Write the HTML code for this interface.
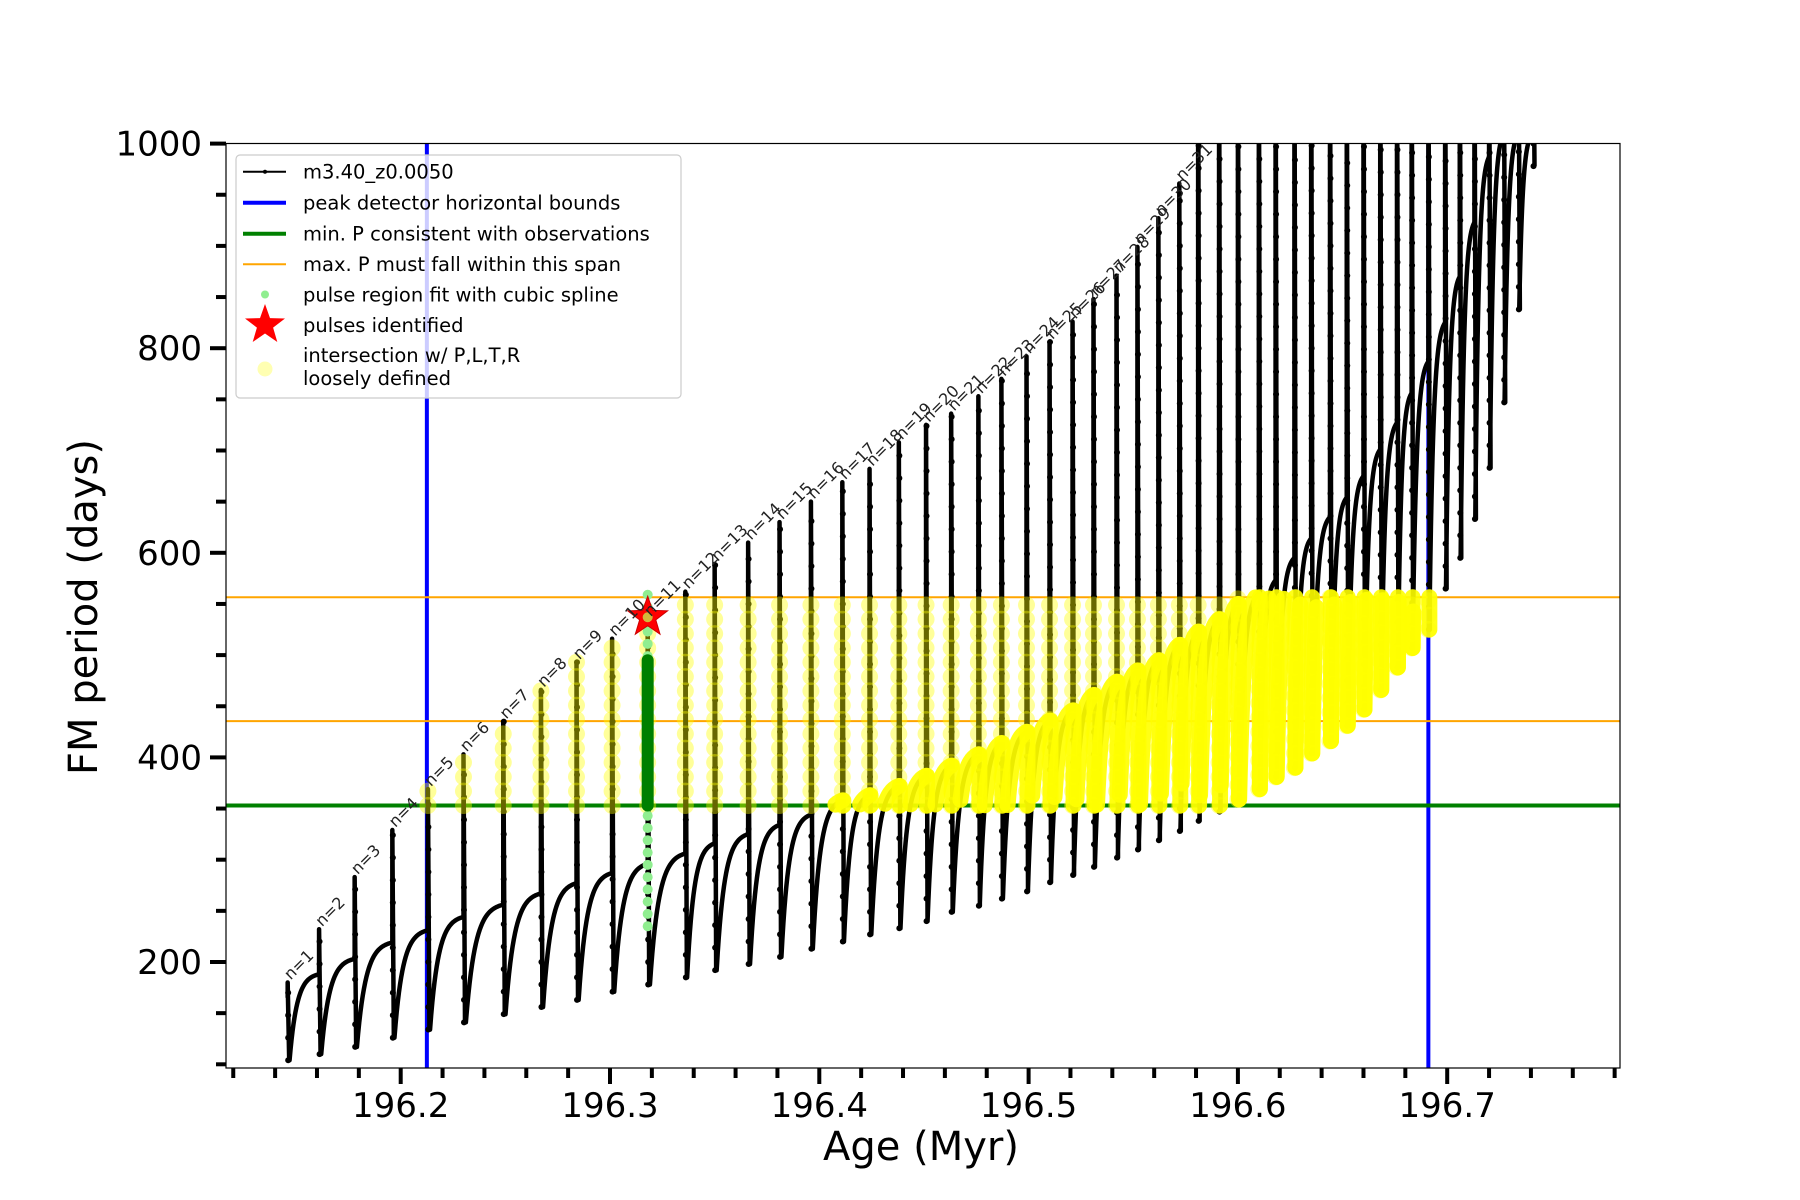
<!DOCTYPE html>
<html><head><meta charset="utf-8"><style>
html,body{margin:0;padding:0;background:#fff;}
svg{display:block;font-family:"DejaVu Sans","Liberation Sans",sans-serif;}
</style></head><body>
<svg id="chart" width="1800" height="1200" viewBox="0 0 1800 1200" xmlns="http://www.w3.org/2000/svg">
<defs>
<clipPath id="plotclip"><rect x="226" y="143.5" width="1394" height="924.5"/></clipPath>
</defs>
<rect x="0" y="0" width="1800" height="1200" fill="#fff"/>
<g id="plot" clip-path="url(#plotclip)"></g>
<g id="axes"></g>
<g id="labels"></g>
<g id="legend"></g>
</svg>
<script>
// ---- data ----
const pulseAge = [196.146,196.161,196.178,196.196,196.213,196.230,196.249,196.267,196.284,196.301,196.318,196.336,196.350,196.366,196.381,196.396,196.411,196.424,196.438,196.451,196.463,196.476,196.487,196.499,196.510,196.521,196.531,196.542,196.552,196.562,196.572,196.581,196.591,196.600,196.610,196.618,196.627,196.635,196.644,196.652,196.660,196.668,196.676,196.683,196.691,196.699,196.706,196.713,196.720,196.727,196.734,196.741];
const pulsePeak = [180,232,283,329,369,403,435,466,493,516,535,562,589,610,630,650,669,682,708,725,736,753,770,792,806,826,848,871,899,927,961,1150,1150,1150,1150,1150,1150,1150,1150,1150,1150,1150,1150,1150,1150,1150,1150,1150,1150,1150,1150,1150];
const pulseMin = [104,110,117,126,134,141,149,156,163,171,178,185,192,198,205,213,220,227,233,240,249,255,262,269,278,285,293,302,310,319,328,338,347,359,369,381,390,404,416,431,447,466,488,507,525,565,595,633,683,747,838,978];
const plateau = [188,203,219,231,244,256,267,277,287,296,306,316,325,334,344,358,363,372,382,392,403,414,425,436,446,461,474,485,495,510,523,535,550,560,573,595,614,635,654,675,701,727,756,787,825,870,923,987,1010,1010,1010];
const startP = 165;
const blueBounds = [196.2125, 196.691];
const minPeriod = 353;
const maxSpan = [435.5, 556.5];
const starPoint = [196.318, 537];
const greenFit = [353, 495];
const lightGreenRange = [235, 560];
const xTickLabels = ["196.2","196.3","196.4","196.5","196.6","196.7"];
const yTickLabels = ["200","400","600","800","1000"];
const nLabelCount = 31;

// ---- axis functions ----
function X(a){ return 400.7 + (a-196.2)*2093; }
function Y(p){ return 962 - (p-200)*1.023; }
const NS="http://www.w3.org/2000/svg";
function mk(tag, parent, attrs){ const e=document.createElementNS(NS,tag); for(const k in attrs) e.setAttribute(k,attrs[k]); parent.appendChild(e); return e; }
const plot=document.getElementById('plot'), axes=document.getElementById('axes'), labels=document.getElementById('labels'), legend=document.getElementById('legend');

const N = pulseAge.length;
function recov(k){
  const t0=pulseAge[k], t1=pulseAge[k+1], dt=t1-t0, pts=[];
  const tm = t0 + dt*0.06, lo=pulseMin[k], hi=plateau[k], tau=0.25, den=1-Math.exp(-1/tau);
  for(let i=0;i<=30;i++){ const u=i/30; pts.push([tm+(t1-tm)*u, lo+(hi-lo)*(1-Math.exp(-u/tau))/den]); }
  return pts;
}

blueBounds.forEach((b,i)=>{ const l=mk('line',plot,{x1:X(b),x2:X(b),y1:140,y2:1070,stroke:'#0000ff','stroke-width':4});

 });
maxSpan.forEach((v,i)=>{ const l=mk('line',plot,{x1:226,x2:1620,y1:Y(v),y2:Y(v),stroke:'#ffa500','stroke-width':2});

 });
{ const l=mk('line',plot,{x1:226,x2:1620,y1:Y(minPeriod),y2:Y(minPeriod),stroke:'#008000','stroke-width':4});

 }

const track=mk('g',plot,{});


for(let k=0;k<N;k++){
  const x=X(pulseAge[k]); const prev = k===0?startP:plateau[k-1];
  let d=`M${x},${Y(prev)} L${x},${Y(pulsePeak[k])} L${x+1.5},${Y(pulseMin[k])}`;
  if(k<N-1){ recov(k).forEach(p=>{ d+=` L${X(p[0])},${Y(p[1])}`; }); }
  const path=mk('path',track,{d:d,fill:'none',stroke:'#000','stroke-width':4.5,'stroke-linejoin':'round'});
  
  
  const top=Math.min(pulsePeak[k],1010);
  for(let v=pulseMin[k]; v<=top; v+=22){ mk('circle',track,{cx:x+0.5,cy:Y(v),r:3,fill:'#000'}); }
}

const yl=mk('g',plot,{});


for(let k=0;k<N;k++){
  const t=pulseAge[k]; if(t<blueBounds[0]||t>blueBounds[1]+0.001) continue;
  const x=X(t); const lo=Math.max(minPeriod,pulseMin[k]), hi=Math.min(maxSpan[1],pulsePeak[k]);
  for(let v=lo; v<=hi; v+=14){ mk('circle',yl,{cx:x,cy:Y(v),r:8.5,fill:'#ffff00','fill-opacity':0.4}); }
}
const heavy=mk('g',plot,{});


for(let k=1;k<N-1;k++){
  if(pulseAge[k]<blueBounds[0]||pulseAge[k]>blueBounds[1]) continue;
  const x=X(pulseAge[k]);
  const top=Math.min(plateau[k-1],maxSpan[1]), bot=Math.max(pulseMin[k],minPeriod);
  if(top>bot){ mk('line',heavy,{x1:x+1,x2:x+1,y1:Y(top),y2:Y(bot),stroke:'#ffff00','stroke-width':16,'stroke-linecap':'round','stroke-opacity':0.9}); }
  let seg=[];
  recov(k).forEach(p=>{ if(p[1]>=minPeriod&&p[1]<=maxSpan[1]&&p[0]<=blueBounds[1]) seg.push(p); });
  if(seg.length>1){ mk('path',heavy,{d:'M'+seg.map(p=>X(p[0])+','+Y(p[1])).join(' L'),fill:'none',stroke:'#ffff00','stroke-width':16,'stroke-linecap':'round','stroke-linejoin':'round','stroke-opacity':0.92}); }
}

const gx=X(starPoint[0]);
for(let v=lightGreenRange[0]; v<=lightGreenRange[1]; v+=12){ mk('circle',plot,{cx:gx,cy:Y(v),r:5,fill:'#90ee90'}); }
{ const g=mk('line',plot,{x1:gx,x2:gx,y1:Y(greenFit[0]),y2:Y(greenFit[1]),stroke:'#008000','stroke-width':12,'stroke-linecap':'round'});

 }
function star(cx,cy,R,r){ let s=''; for(let i=0;i<10;i++){ const a=-Math.PI/2+i*Math.PI/5, rr=i%2?r:R; s+=(cx+rr*Math.cos(a)).toFixed(1)+','+(cy+rr*Math.sin(a)).toFixed(1)+' '; } return s; }
{ const s=mk('polygon',plot,{points:star(gx,Y(starPoint[1]),21,8.5),fill:'#ff0000',stroke:'#c00','stroke-width':1});

 }
mk('circle',plot,{cx:gx,cy:Y(starPoint[1]),r:5,fill:'#c8e64a','fill-opacity':0.8});

for(let k=0;k<nLabelCount;k++){
  const x=X(pulseAge[k])+3, y=Y(Math.min(pulsePeak[k],1000))-2;
  const t=mk('text',labels,{x:x,y:y,'font-size':16,fill:'#222',transform:`rotate(-45 ${x} ${y})`});
  t.textContent='n='+(k+1);
  
  
}

mk('rect',axes,{x:226,y:143.5,width:1394,height:924.5,fill:'none',stroke:'#000','stroke-width':1.2});
for(let i=0;i<=33;i++){ const a=196.12+i*0.02; const x=X(a); const major=Math.abs((a*10)-Math.round(a*10))<1e-6;
  mk('line',axes,{x1:x,x2:x,y1:1068,y2:1068+(major?16:10),stroke:'#000','stroke-width':4}); }
xTickLabels.forEach(s=>{ const t=mk('text',axes,{x:X(parseFloat(s)),y:1117,'font-size':34,'text-anchor':'middle',fill:'#000'}); t.textContent=s;

 });
for(let v=100; v<=1000; v+=50){ const y=Y(v); const major=v%200===0;
  mk('line',axes,{x1:226,x2:226-(major?16:10),y1:y,y2:y,stroke:'#000','stroke-width':4}); }
yTickLabels.forEach(s=>{ const t=mk('text',axes,{x:202,y:Y(parseFloat(s))+12,'font-size':34,'text-anchor':'end',fill:'#000'}); t.textContent=s;

 });
{ const t=mk('text',axes,{x:921,y:1160,'font-size':40,'text-anchor':'middle',fill:'#000'}); t.textContent='Age (Myr)';

 }
{ const t=mk('text',axes,{x:97,y:607,'font-size':40,'text-anchor':'middle',fill:'#000',transform:'rotate(-90 97 607)'}); t.textContent='FM period (days)';

 }

mk('rect',legend,{x:236,y:155,width:445,height:243,rx:4,fill:'#fff','fill-opacity':0.8,stroke:'#ccc','stroke-width':1.2});
const legRows=[171.7,202.7,233.7,264.2,294.5,325,356];
const legText=['m3.40_z0.0050','peak detector horizontal bounds','min. P consistent with observations','max. P must fall within this span','pulse region fit with cubic spline','pulses identified'];
legText.forEach((s,i)=>{ const t=mk('text',legend,{x:303,y:legRows[i]+7,'font-size':19.5,fill:'#000'}); t.textContent=s;

 });
{ const t=mk('text',legend,{x:303,y:362,'font-size':19.5,fill:'#000'}); t.textContent='intersection w/ P,L,T,R';


const t2=mk('text',legend,{x:303,y:385,'font-size':19.5,fill:'#000'}); t2.textContent='loosely defined';

 }
mk('line',legend,{x1:243,x2:286,y1:171.7,y2:171.7,stroke:'#000','stroke-width':2});
mk('circle',legend,{cx:265,cy:171.7,r:2,fill:'#000'});
mk('line',legend,{x1:243,x2:286,y1:202.7,y2:202.7,stroke:'#0000ff','stroke-width':4});
mk('line',legend,{x1:243,x2:286,y1:233.7,y2:233.7,stroke:'#008000','stroke-width':4});
mk('line',legend,{x1:243,x2:286,y1:264.2,y2:264.2,stroke:'#ffa500','stroke-width':2});
mk('circle',legend,{cx:265,cy:294.5,r:4,fill:'#90ee90'});
mk('polygon',legend,{points:star(265,325,21,8.5),fill:'#ff0000'});
mk('circle',legend,{cx:265,cy:369,r:7.5,fill:'#ffff00','fill-opacity':0.3});
</script>
</body></html>
